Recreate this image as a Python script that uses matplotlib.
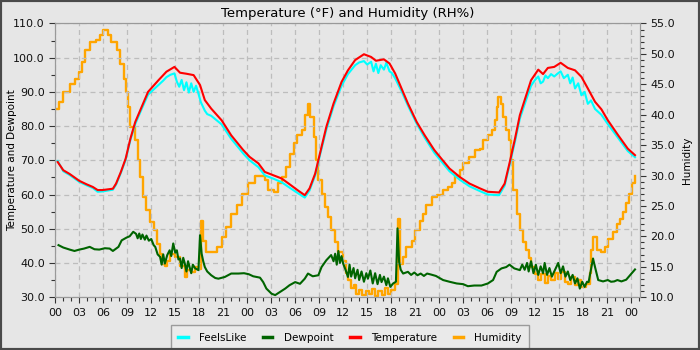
import numpy as np
import matplotlib
matplotlib.use('Agg')
import matplotlib.pyplot as plt
from matplotlib.ticker import MultipleLocator, FuncFormatter, FormatStrFormatter
from matplotlib.patches import Rectangle


# hours since midnight of the first day
temp_hours = [0.3, 1.0, 1.8, 3.0, 3.9, 4.7, 5.3, 5.9, 7.2, 7.6, 8.2, 8.8, 9.4, 10.0,
              10.8, 11.6, 12.9, 13.9, 14.9, 15.6, 16.4, 17.3, 18.1, 18.7, 19.5, 20.8,
              22.0, 23.5, 24.3, 25.4, 26.2, 27.3, 28.3, 29.3, 30.4, 31.2, 31.8, 32.5,
              33.1, 33.9, 34.8, 35.8, 36.6, 37.5, 38.6, 39.5, 40.1, 41.1, 41.8, 42.5,
              43.3, 44.1, 45.2, 46.2, 47.4, 48.1, 49.3, 50.6, 51.8, 53.1, 54.1, 55.5,
              56.2, 56.8, 57.5, 58.1, 58.7, 59.5, 60.4, 61.0, 61.6, 62.4, 63.2, 64.1,
              65.0, 65.8, 66.6, 67.5, 68.3, 69.1, 70.4, 71.6, 72.5]
temperature = [69.5, 67.1, 66.0, 64.0, 63.0, 62.2, 61.3, 61.3, 61.7, 63.2, 66.6, 70.5,
               76.4, 81.2, 85.6, 90.0, 93.4, 95.9, 97.3, 95.6, 95.3, 94.9, 92.0, 87.6,
               85.1, 81.7, 77.3, 73.0, 71.0, 69.1, 66.6, 65.6, 64.7, 63.0, 61.1, 59.8,
               61.8, 66.1, 72.0, 79.8, 86.6, 92.9, 96.3, 99.3, 101.0, 100.2, 99.1, 99.5,
               98.3, 95.4, 91.0, 86.6, 81.2, 77.3, 73.0, 71.0, 67.6, 65.1, 63.2, 61.8,
               60.8, 60.6, 63.2, 69.1, 76.4, 83.2, 87.6, 93.4, 96.5, 95.2, 97.0, 97.3,
               98.5, 97.0, 96.3, 94.4, 91.0, 87.1, 84.9, 81.7, 77.3, 73.4, 71.5]

feels_hours = [0.3, 1.0, 1.8, 3.0, 3.9, 4.7, 5.3, 5.9, 7.2, 7.6, 8.2, 8.8, 9.4, 10.0,
               10.8, 11.6, 12.9, 13.5, 13.9, 14.4, 14.9, 15.2, 15.5, 15.8, 16.1, 16.4,
               16.7, 17.0, 17.3, 17.6, 17.9, 18.2, 18.7, 19.0, 19.5, 20.8, 22.0, 23.5,
               24.3, 25.4, 26.2, 27.3, 28.3, 29.3, 30.4, 31.2, 31.8, 32.5, 33.1, 33.9,
               34.8, 35.8, 36.6, 37.5, 38.0, 38.6, 39.0, 39.5, 39.8, 40.1, 40.4, 40.7,
               41.1, 41.4, 41.8, 42.1, 42.5, 43.3, 44.1, 45.2, 46.2, 47.4, 48.1, 49.3,
               50.6, 51.8, 53.1, 54.1, 55.5, 56.2, 56.8, 57.5, 58.1, 58.7, 59.5, 60.0,
               60.4, 60.7, 61.0, 61.3, 61.6, 62.0, 62.4, 62.8, 63.2, 63.6, 64.1, 64.4,
               64.7, 65.0, 65.4, 65.8, 66.2, 66.6, 67.0, 67.5, 68.3, 69.1, 70.4, 71.6,
               72.5]
feels_like = [69.8, 66.8, 65.7, 63.7, 62.7, 61.9, 60.8, 60.9, 61.4, 62.9, 66.3, 70.2,
              76.0, 80.6, 85.0, 89.2, 92.0, 93.3, 94.3, 95.0, 95.4, 93.0, 91.5, 93.5,
              90.5, 92.8, 89.8, 92.5, 90.0, 91.8, 89.5, 87.0, 84.5, 83.5, 83.0, 80.5,
              76.3, 72.0, 70.0, 68.0, 65.6, 64.6, 63.6, 62.0, 60.3, 59.1, 61.2, 65.6,
              71.5, 79.0, 85.8, 91.8, 95.2, 97.8, 98.6, 99.0, 98.0, 98.8, 96.0, 98.2,
              95.5, 97.8, 96.5, 98.5, 96.0, 95.5, 94.0, 90.2, 86.0, 80.7, 76.6, 72.2,
              70.2, 66.8, 64.3, 62.4, 61.0, 60.0, 59.8, 62.6, 68.5, 75.6, 82.2, 86.4,
              91.8, 93.5, 94.5, 92.5, 93.0, 94.8, 94.0, 95.2, 94.5, 95.3, 96.0, 94.0,
              95.0, 92.5, 94.2, 91.0, 92.5, 89.0, 90.0, 86.5, 87.5, 85.0, 83.3, 80.6,
              76.5, 72.7, 70.9]

dew_hours = [0.4, 1.0, 1.8, 2.4, 3.0, 3.6, 4.3, 4.9, 5.5, 6.2, 6.8, 7.2, 7.9, 8.3, 8.9,
             9.3, 9.75, 10.1, 10.3, 10.5, 10.7, 10.9, 11.2, 11.4, 11.7, 12.0, 12.3,
             12.5, 12.8, 13.1, 13.3, 13.5, 13.7, 14.0, 14.3, 14.5, 14.75, 15.0, 15.2,
             15.4, 15.6, 15.8, 16.0, 16.2, 16.4, 16.6, 16.8, 17.0, 17.2, 17.5, 17.9,
             18.1, 18.3, 18.5, 18.7, 19.0, 19.5, 20.0, 20.4, 21.2, 22.0, 22.9, 23.6,
             24.2, 24.75, 25.6, 26.0, 26.4, 27.05, 27.5, 28.1, 28.75, 29.3, 30.0, 30.6,
             31.2, 31.6, 32.2, 32.9, 33.3, 33.9, 34.5, 34.8, 35.0, 35.2, 35.4, 35.6,
             35.8, 36.0, 36.3, 36.6, 36.8, 37.0, 37.3, 37.5, 37.8, 38.0, 38.3, 38.6,
             38.9, 39.1, 39.4, 39.7, 40.0, 40.3, 40.6, 40.8, 41.1, 41.4, 41.6, 41.9,
             42.25, 42.6, 42.8, 43.0, 43.2, 43.5, 44.1, 44.5, 44.9, 45.3, 45.7, 46.1,
             46.5, 47.0, 47.6, 48.5, 49.3, 50.2, 51.0, 51.6, 52.4, 53.3, 54.1, 54.75,
             55.2, 55.8, 56.4, 56.8, 57.4, 58.1, 58.4, 58.7, 59.0, 59.2, 59.5, 59.8,
             60.1, 60.4, 60.7, 61.0, 61.2, 61.5, 61.8, 62.1, 62.5, 62.9, 63.2, 63.5,
             63.8, 64.1, 64.4, 64.7, 65.0, 65.3, 65.6, 65.9, 66.2, 66.5, 66.7, 67.05,
             67.25, 67.5, 67.9, 68.5, 69.1, 69.5, 69.9, 70.3, 70.8, 71.4, 72.05, 72.5]
dewpoint = [45.2, 44.5, 43.9, 43.5, 43.9, 44.2, 44.7, 44.0, 43.9, 44.3, 44.2, 43.5, 44.7,
            46.6, 47.4, 47.8, 49.1, 48.5, 47.2, 48.6, 47.0, 48.3, 46.8, 48.0, 46.5, 47.0,
            45.2, 44.7, 42.5, 41.8, 39.5, 42.5, 39.8, 42.3, 43.7, 42.0, 45.7, 43.0, 43.7,
            41.0, 41.3, 38.5, 41.5, 39.8, 37.5, 40.5, 38.8, 37.0, 39.5, 38.4, 37.9, 48.1,
            42.7, 40.5, 38.8, 37.5, 36.4, 35.6, 35.4, 35.9, 36.9, 36.9, 37.0, 36.7, 36.1,
            35.7, 34.4, 32.5, 31.0, 30.6, 31.5, 32.5, 33.5, 34.4, 33.9, 35.4, 36.9, 36.1,
            36.4, 38.8, 40.8, 42.3, 40.5, 42.7, 39.5, 43.5, 40.0, 42.0, 39.8, 38.0, 35.9,
            39.5, 36.0, 38.5, 35.5, 38.0, 35.0, 37.5, 34.5, 37.0, 35.4, 37.8, 34.0, 37.0,
            33.8, 36.5, 34.4, 36.0, 33.5, 35.5, 33.0, 34.0, 34.5, 50.1, 40.3, 38.0, 36.9,
            37.4, 36.5, 37.2, 36.4, 36.9, 36.2, 36.9, 36.6, 36.2, 35.0, 34.5, 34.0, 33.8,
            33.2, 33.4, 33.4, 34.0, 35.0, 37.4, 38.4, 38.8, 39.5, 38.4, 37.9, 39.5, 38.0,
            40.0, 37.5, 40.5, 37.0, 39.5, 36.5, 39.0, 37.0, 40.0, 36.5, 38.5, 36.0, 38.0,
            40.0, 37.0, 39.0, 36.0, 37.5, 35.0, 36.5, 34.0, 35.5, 32.5, 34.5, 33.0, 34.5,
            34.4, 38.8, 41.3, 38.8, 35.0, 34.6, 35.0, 34.5, 34.6, 35.0, 34.6, 35.1, 36.9,
            38.1]

hum_hours = [0.25, 0.5, 1.0, 1.8, 2.5, 3.0, 3.3, 3.7, 4.3, 5.1, 5.6, 6.0, 6.6, 7.0, 7.7,
             8.1, 8.6, 8.9, 9.1, 9.4, 10.0, 10.3, 10.6, 11.0, 11.4, 11.8, 12.3, 12.7,
             13.1, 13.4, 13.7, 14.0, 14.3, 15.0, 15.6, 16.2, 16.5, 17.0, 17.5, 17.9,
             18.2, 18.5, 18.9, 19.5, 20.2, 20.8, 21.4, 22.0, 22.7, 23.3, 24.1, 25.0,
             26.2, 26.6, 27.3, 27.9, 28.3, 28.9, 29.3, 29.8, 30.2, 30.8, 31.2, 31.6,
             31.9, 32.3, 32.6, 32.9, 33.3, 33.7, 34.1, 34.5, 35.0, 35.4, 36.0, 36.3,
             36.6, 37.0, 37.3, 37.6, 38.0, 38.4, 38.8, 39.2, 39.6, 40.0, 40.4, 40.8,
             41.2, 41.6, 42.0, 42.5, 42.8, 43.1, 43.5, 43.9, 44.6, 45.0, 45.6, 46.0,
             46.4, 47.1, 47.7, 48.5, 49.1, 49.6, 50.0, 50.6, 51.0, 51.8, 52.5, 53.1,
             53.5, 54.1, 54.6, 55.0, 55.2, 55.4, 55.7, 56.0, 56.4, 56.8, 57.0, 57.3,
             57.7, 58.1, 58.5, 58.9, 59.2, 59.5, 60.0, 60.4, 60.8, 61.2, 61.6, 62.0,
             62.5, 62.9, 63.3, 63.7, 64.1, 64.5, 65.0, 65.4, 65.8, 66.4, 66.9, 67.0,
             67.2, 67.7, 68.3, 68.7, 69.1, 69.7, 70.2, 70.6, 71.0, 71.4, 71.8, 72.1,
             72.5]
humidity = [41.0, 42.1, 43.7, 45.1, 45.9, 47.0, 48.7, 50.6, 52.0, 52.3, 53.1, 53.9, 53.1,
            52.0, 50.6, 48.4, 45.9, 43.7, 41.3, 38.0, 35.8, 32.5, 29.8, 26.5, 24.3, 22.4,
            21.0, 18.8, 17.1, 15.5, 15.2, 16.0, 17.1, 16.6, 15.2, 13.3, 14.5, 14.1, 14.9,
            14.7, 22.6, 19.3, 17.4, 17.4, 18.2, 19.9, 21.5, 23.7, 25.1, 27.0, 28.7, 30.0,
            29.2, 27.6, 27.3, 28.7, 29.8, 31.4, 33.6, 35.3, 36.6, 37.4, 39.9, 41.8, 39.6,
            36.3, 32.5, 29.2, 27.0, 24.8, 23.2, 21.0, 19.0, 17.5, 16.0, 14.0, 12.8, 11.5,
            12.0, 10.5, 11.2, 10.3, 11.0, 10.5, 11.3, 10.2, 11.0, 10.4, 11.5, 10.5, 11.2,
            12.2, 22.9, 15.5, 16.6, 18.2, 19.3, 21.0, 22.6, 23.7, 25.1, 26.5, 26.8, 27.6,
            28.1, 28.7, 30.0, 30.9, 32.0, 33.0, 34.2, 34.4, 35.8, 36.6, 37.4, 39.1, 41.3,
            42.9, 41.8, 39.6, 37.4, 35.8, 32.5, 27.6, 23.7, 21.0, 19.1, 17.7, 16.4, 15.0,
            13.8, 12.8, 13.8, 12.3, 13.5, 12.8, 14.0, 13.0, 14.2, 12.5, 12.2, 13.3, 12.0,
            12.8, 11.7, 12.2, 13.9, 17.7, 19.9, 17.7, 17.4, 18.2, 19.6, 20.7, 22.1, 22.9,
            24.0, 25.4, 27.0, 28.7, 30.0]

bg = '#e6e6e6'

fig = plt.figure(figsize=(7, 3.5), dpi=100, facecolor=bg)
ax = fig.add_axes([0.079, 0.151, 0.835, 0.782])
ax2 = ax.twinx()
ax.set_zorder(ax2.get_zorder() + 1)
ax.patch.set_visible(False)
ax2.set_facecolor(bg)

l1, = ax.plot(feels_hours, feels_like, color='#00ffff', lw=1.5, label='FeelsLike')
l2, = ax.plot(dew_hours, dewpoint, color='#006400', lw=1.5, label='Dewpoint')
l3, = ax.plot(temp_hours, temperature, color='#ff0000', lw=1.5, label='Temperature')
l4, = ax2.plot(hum_hours, humidity, color='#ffa500', lw=1.7, drawstyle='steps-post',
               label='Humidity')

ax.set_xlim(0, 73.1)
ax.set_ylim(30, 110)
ax2.set_ylim(10, 55)

ax.xaxis.set_major_locator(MultipleLocator(3))
ax.xaxis.set_minor_locator(MultipleLocator(1))
ax.xaxis.set_major_formatter(FuncFormatter(lambda h, pos: f'{int(round(h)) % 24:02d}'))
ax.yaxis.set_major_locator(MultipleLocator(10))
ax.yaxis.set_minor_locator(MultipleLocator(5))
ax.yaxis.set_major_formatter(FormatStrFormatter('%.1f'))
ax2.yaxis.set_major_locator(MultipleLocator(5))
ax2.yaxis.set_minor_locator(MultipleLocator(1))
ax2.yaxis.set_major_formatter(FormatStrFormatter('%.1f'))

for a in (ax, ax2):
    a.tick_params(which='major', length=4, width=0.8, labelsize=8, colors='#333333',
                  labelcolor='#111111')
    a.tick_params(which='minor', length=3, width=0.8, colors='#333333')
    for s in a.spines.values():
        s.set_color('#999999')

ax.grid(True, which='major', color='#bdbdbd', linestyle=(0, (4, 3)), linewidth=0.9)

ax.set_ylabel('Temperature and Dewpoint', fontsize=7.5)
ax.yaxis.set_label_coords(-0.066, 0.5)
ax2.set_ylabel('Humidity', fontsize=7.5)
ax2.yaxis.set_label_coords(1.072, 0.5)
ax.set_title('Temperature (°F) and Humidity (RH%)', fontsize=9.5, pad=5)

leg = fig.legend(handles=[l1, l2, l3, l4], loc='lower center', ncol=4,
                 bbox_to_anchor=(0.5, 0.0), fontsize=7.5, frameon=True, fancybox=False,
                 handlelength=0.9, handletextpad=1.1, columnspacing=1.6,
                 borderpad=0.7, borderaxespad=0.0)
leg.get_frame().set_facecolor('#ececec')
leg.get_frame().set_edgecolor('#888888')
leg.get_frame().set_linewidth(1.0)
for line in leg.get_lines():
    line.set_linewidth(2.5)

fig.patches.append(Rectangle((0, 0), 1, 1, transform=fig.transFigure, fill=False,
                             edgecolor='#4a4a4a', linewidth=3, zorder=10))

fig.savefig('out.png', dpi=100, facecolor=bg)
